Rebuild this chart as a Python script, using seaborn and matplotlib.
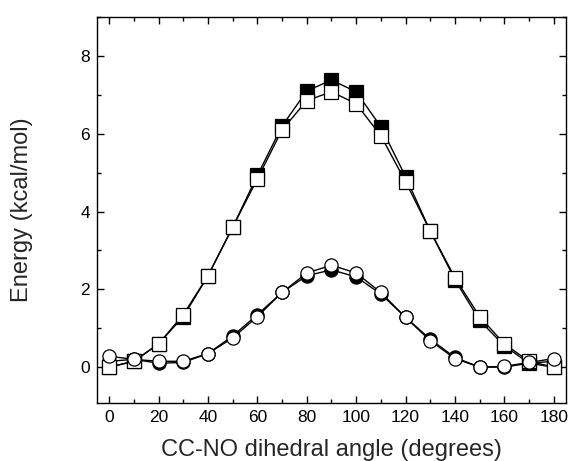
import numpy as np
import pandas as pd
import matplotlib
matplotlib.use('Agg')
import matplotlib.pyplot as plt
import seaborn as sns
from matplotlib.ticker import MultipleLocator

# dihedral angle (degrees)
angle = [0, 10, 20, 30, 40, 50, 60, 70, 80, 90, 100, 110, 120, 130, 140, 150, 160, 170, 180]

# energies (kcal/mol)
sq_filled = [0.0, 0.15, 0.6, 1.3, 2.35, 3.6, 4.93, 6.2, 7.1, 7.38, 7.08, 6.18, 4.9, 3.5, 2.25, 1.2, 0.55, 0.1, 0.0]
sq_open = [0.0, 0.15, 0.6, 1.35, 2.35, 3.6, 4.84, 6.1, 6.85, 7.08, 6.77, 5.95, 4.77, 3.5, 2.3, 1.3, 0.6, 0.15, 0.0]
ci_filled = [0.15, 0.2, 0.1, 0.12, 0.35, 0.8, 1.35, 1.92, 2.35, 2.5, 2.32, 1.88, 1.28, 0.72, 0.25, 0.0, 0.0, 0.1, 0.15]
ci_open = [0.28, 0.2, 0.15, 0.15, 0.35, 0.75, 1.3, 1.92, 2.42, 2.62, 2.42, 1.92, 1.28, 0.68, 0.22, 0.0, 0.02, 0.12, 0.22]

df = pd.DataFrame({'angle': angle, 'sq_filled': sq_filled, 'sq_open': sq_open,
                   'ci_filled': ci_filled, 'ci_open': ci_open})

sns.set_style('white')
plt.rcParams['font.family'] = ['Liberation Sans', 'DejaVu Sans']

fig = plt.figure(figsize=(5.7, 4.61), dpi=100)
ax = fig.add_axes([0.170, 0.126, 0.823, 0.837])

series = [('sq_filled', 's', 'black'), ('ci_filled', 'o', 'black'),
          ('sq_open', 's', 'white'), ('ci_open', 'o', 'white')]
for col, mk, fc in series:
    sns.lineplot(x='angle', y=col, data=df, ax=ax, color='black', linewidth=1.0,
                 marker=mk, markersize=9.5, markerfacecolor=fc,
                 markeredgecolor='black', markeredgewidth=0.9)

ax.set_xlim(-5, 185)
ax.set_ylim(-0.92, 9)
ax.xaxis.set_major_locator(MultipleLocator(20))
ax.xaxis.set_minor_locator(MultipleLocator(10))
ax.yaxis.set_major_locator(MultipleLocator(2))
ax.yaxis.set_minor_locator(MultipleLocator(1))
ax.tick_params(which='both', direction='in', top=True, right=True,
               bottom=True, left=True, labelsize=12.5, colors='black')
ax.tick_params(which='major', length=5, width=1, pad=5)
ax.tick_params(which='minor', length=3, width=1)
for s in ax.spines.values():
    s.set_color('black')
    s.set_linewidth(1.0)

ax.set_xlabel('CC-NO dihedral angle (degrees)', fontsize=17, labelpad=10)
ax.set_ylabel('Energy (kcal/mol)', fontsize=17, labelpad=34)

fig.savefig('out.png', dpi=100)
